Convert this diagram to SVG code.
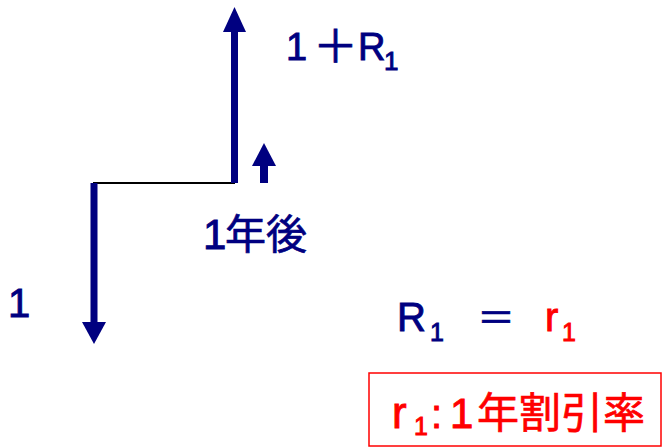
<svg xmlns="http://www.w3.org/2000/svg" width="662" height="447" viewBox="0 0 662 447">
<style>
.t{font-family:"Liberation Sans","Noto Sans CJK JP",sans-serif;stroke-width:0.9;}
.j{font-family:"Noto Sans CJK JP",sans-serif;stroke-width:0.7;}
.b{fill:#000080;stroke:#000080;}
.r{fill:#ff0000;stroke:#ff0000;}
.ar{fill:#000080;}
</style>
<rect width="662" height="447" fill="#ffffff"/>
<g id="connectors">
<line x1="93" y1="183" x2="235" y2="183" stroke="#000000" stroke-width="2"/>
</g>
<g id="arrow-down">
<rect class="ar" x="90.5" y="183" width="7" height="140"/>
<polygon class="ar" points="82,322 106,322 94,344"/>
</g>
<g id="arrow-up-big">
<rect class="ar" x="231" y="31" width="7" height="152"/>
<polygon class="ar" points="223,32 246,32 234.5,7"/>
</g>
<g id="arrow-up-small">
<rect class="ar" x="260" y="165" width="8" height="18"/>
<polygon class="ar" points="252,166 276,166 264,143"/>
</g>
<g id="label-1plusR1">
<text class="t b" x="286" y="60" font-size="38">1<tspan class="j" x="313" y="63" font-size="45" stroke-width="1.8">＋</tspan><tspan x="358" y="60">R</tspan><tspan font-size="26" x="384" y="70">1</tspan></text>
</g>
<g id="label-1year">
<text class="t b" x="203" y="249" font-size="42">1<tspan class="j" x="225" font-size="41">年後</tspan></text>
</g>
<g id="label-1">
<text class="t b" x="8" y="317" font-size="40">1</text>
</g>
<g id="equation">
<text class="t b" x="397" y="331" font-size="40">R<tspan font-size="25" x="430" y="341">1</tspan></text>
<text class="j b" x="477" y="331" font-size="38" stroke-width="1.6">＝</text>
<text class="t r" x="545" y="331" font-size="40">r<tspan font-size="25" x="562" y="341">1</tspan></text>
</g>
<g id="definition">
<rect x="369" y="373" width="292" height="73" fill="none" stroke="#ff0000" stroke-width="1.5"/>
<text class="t r" x="392" y="428" font-size="44">r<tspan font-size="25" x="414" y="435">1</tspan><tspan x="431" y="428" font-size="40">:</tspan><tspan x="450" font-size="42">1</tspan><tspan class="j" x="477" font-size="42">年割引率</tspan></text>
</g>
</svg>
